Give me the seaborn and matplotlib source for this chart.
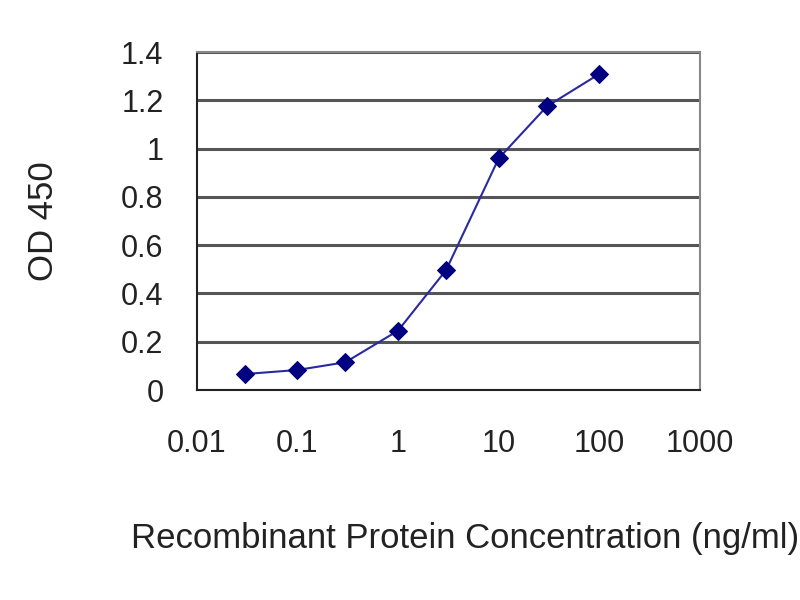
import matplotlib
matplotlib.use('Agg')
import matplotlib.pyplot as plt
import seaborn as sns
import pandas as pd

# data
conc = [0.03, 0.1, 0.3, 1, 3, 10, 30, 100]
od450 = [0.066, 0.083, 0.115, 0.246, 0.497, 0.96, 1.175, 1.31]
x_ticks = [0.01, 0.1, 1, 10, 100, 1000]
x_ticklabels = ['0.01', '0.1', '1', '10', '100', '1000']
y_ticks = [0, 0.2, 0.4, 0.6, 0.8, 1, 1.2, 1.4]
y_ticklabels = ['0', '0.2', '0.4', '0.6', '0.8', '1', '1.2', '1.4']

df = pd.DataFrame({'Concentration': conc, 'OD450': od450})

sns.set_style('white')
plt.rcParams['font.family'] = ['Liberation Sans', 'DejaVu Sans']

fig = plt.figure(figsize=(8, 6), dpi=100)
ax = fig.add_axes([0.246, 0.35, 0.629, 0.563])

sns.lineplot(data=df, x='Concentration', y='OD450', ax=ax, color='#2a2aa0',
             linewidth=1.5, marker='D', markersize=9, markerfacecolor='#000080',
             markeredgecolor='#000080')

ax.set_xscale('log')
ax.set_xlim(0.01, 1000)
ax.set_ylim(0, 1.4)
ax.set_xticks(x_ticks)
ax.set_xticklabels(x_ticklabels, fontsize=22)
ax.set_yticks(y_ticks)
ax.set_yticklabels(y_ticklabels, fontsize=22)
ax.minorticks_off()

ax.yaxis.grid(True, color='#555555', linewidth=2.2)
ax.set_axisbelow(True)
ax.tick_params(axis='x', direction='in', length=5, width=1.2, pad=28, colors='#222222')
ax.tick_params(axis='y', length=0, pad=24, colors='#222222')

for side in ['left', 'bottom']:
    ax.spines[side].set_color('#222222')
    ax.spines[side].set_linewidth(1.5)
for side in ['top', 'right']:
    ax.spines[side].set_color('#888888')
    ax.spines[side].set_linewidth(1.5)

ax.set_xlabel('Recombinant Protein Concentration (ng/ml)', fontsize=25, color='#222222')
ax.xaxis.set_label_coords(0.533, -0.39)
ax.set_ylabel('OD 450', fontsize=25, color='#222222', labelpad=44)

fig.savefig('out.png', dpi=100)
